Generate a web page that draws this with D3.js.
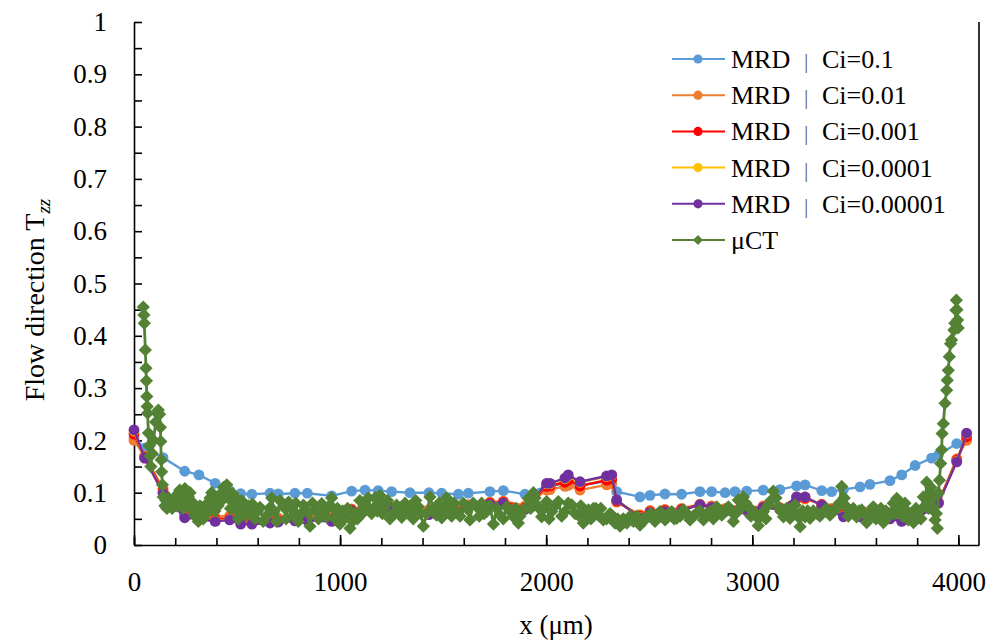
<!DOCTYPE html>
<html>
<head>
<meta charset="utf-8">
<script src="https://cdn.jsdelivr.net/npm/d3@7"></script>
<style>
  body { margin: 0; background: #fff; }
  svg { display: block; }
  svg text { font-family: "Liberation Serif", "DejaVu Serif", serif; fill: #000; }
</style>
</head>
<body>
<svg width="996" height="640"></svg>
<script>
// MRD nodes (shared by all MRD runs)
var mrdX = [0, 52, 141, 246, 315, 394, 464, 518, 572, 660, 700, 781, 841, 959, 1056, 1121, 1185, 1250, 1339, 1431,
  1493, 1574, 1622, 1727, 1792, 1897, 2002, 2019, 2091, 2107, 2164, 2293, 2318, 2342, 2455, 2504, 2576, 2657, 2746, 2803,
  2868, 2916, 2973, 3053, 3134, 3215, 3256, 3337, 3385, 3442, 3523, 3571, 3668, 3725, 3790, 3870, 3903, 3992, 4040];

var ci01 = [0.205, 0.185, 0.167, 0.141, 0.134, 0.118, 0.104, 0.098, 0.097, 0.099, 0.0975, 0.099, 0.099, 0.094, 0.103, 0.105, 0.104, 0.102, 0.1, 0.1,
  0.099, 0.097, 0.099, 0.102, 0.104, 0.097, 0.112, 0.112, 0.118, 0.12, 0.114, 0.122, 0.123, 0.102, 0.092, 0.095, 0.0975, 0.097, 0.102, 0.102,
  0.1, 0.102, 0.103, 0.105, 0.106, 0.113, 0.115, 0.104, 0.102, 0.106, 0.111, 0.116, 0.123, 0.134, 0.152, 0.166, 0.172, 0.194, 0.203];

var ci001 = [0.2, 0.17, 0.108, 0.062, 0.058, 0.054, 0.056, 0.05, 0.048, 0.05, 0.052, 0.055, 0.056, 0.055, 0.069, 0.072, 0.076, 0.073, 0.07, 0.068,
  0.062, 0.066, 0.077, 0.082, 0.084, 0.075, 0.105, 0.106, 0.112, 0.114, 0.105, 0.115, 0.117, 0.082, 0.058, 0.066, 0.068, 0.07, 0.078, 0.075,
  0.07, 0.066, 0.07, 0.075, 0.072, 0.088, 0.088, 0.078, 0.07, 0.06, 0.062, 0.065, 0.062, 0.056, 0.058, 0.072, 0.082, 0.165, 0.2];

var ci0001 = [0.212, 0.168, 0.103, 0.056, 0.053, 0.049, 0.051, 0.044, 0.043, 0.045, 0.047, 0.05, 0.051, 0.049, 0.067, 0.07, 0.074, 0.07, 0.067, 0.062,
  0.059, 0.063, 0.074, 0.08, 0.082, 0.071, 0.112, 0.113, 0.12, 0.124, 0.113, 0.124, 0.126, 0.084, 0.055, 0.064, 0.066, 0.068, 0.077, 0.073,
  0.067, 0.064, 0.068, 0.073, 0.07, 0.09, 0.09, 0.077, 0.067, 0.057, 0.058, 0.061, 0.056, 0.05, 0.053, 0.071, 0.081, 0.162, 0.207];

var ci00001 = [0.218, 0.166, 0.1, 0.053, 0.051, 0.046, 0.049, 0.041, 0.041, 0.043, 0.045, 0.047, 0.048, 0.046, 0.065, 0.068, 0.072, 0.068, 0.065, 0.059,
  0.057, 0.061, 0.072, 0.078, 0.08, 0.069, 0.117, 0.117, 0.127, 0.132, 0.12, 0.131, 0.133, 0.086, 0.053, 0.062, 0.064, 0.066, 0.077, 0.072,
  0.065, 0.062, 0.066, 0.072, 0.068, 0.092, 0.092, 0.076, 0.065, 0.055, 0.055, 0.059, 0.051, 0.046, 0.049, 0.07, 0.08, 0.16, 0.213];

var ci000001 = [0.22, 0.166, 0.099, 0.052, 0.05, 0.045, 0.048, 0.04, 0.04, 0.042, 0.044, 0.046, 0.047, 0.045, 0.065, 0.068, 0.072, 0.068, 0.064, 0.058,
  0.057, 0.06, 0.072, 0.078, 0.08, 0.068, 0.118, 0.118, 0.128, 0.134, 0.121, 0.132, 0.134, 0.086, 0.052, 0.062, 0.064, 0.066, 0.077, 0.072,
  0.064, 0.062, 0.066, 0.072, 0.068, 0.092, 0.092, 0.076, 0.065, 0.054, 0.054, 0.058, 0.05, 0.045, 0.048, 0.07, 0.08, 0.159, 0.214];

// micro-CT profile [x, Tzz]
var ctProfile = [
  [45, 0.455], [48, 0.44], [50, 0.424], [55, 0.373], [58, 0.338], [60, 0.314], [62, 0.284], [64, 0.265], [66, 0.252], [70, 0.214],
  [74, 0.19], [78, 0.17], [82, 0.15], [88, 0.175], [95, 0.2], [105, 0.235], [112, 0.252], [118, 0.258], [124, 0.25], [128, 0.225],
  [130, 0.198], [132, 0.163], [134, 0.14], [138, 0.115], [142, 0.092],
  [150, 0.075], [155, 0.085], [160, 0.07], [168, 0.09], [175, 0.08], [185, 0.07], [195, 0.09], [205, 0.075], [215, 0.099], [222, 0.105],
  [230, 0.085], [238, 0.07], [247, 0.108], [256, 0.08], [264, 0.092], [272, 0.1], [280, 0.067], [288, 0.08], [296, 0.055], [304, 0.07],
  [312, 0.045], [320, 0.075], [328, 0.058], [336, 0.05], [344, 0.067], [350, 0.06], [356, 0.08], [362, 0.07], [369, 0.09], [377, 0.1],
  [385, 0.082], [392, 0.065], [400, 0.09], [408, 0.075], [417, 0.097], [426, 0.085], [434, 0.11], [442, 0.095], [450, 0.115], [456, 0.09],
  [462, 0.1], [468, 0.07], [474, 0.088], [480, 0.098], [486, 0.075], [492, 0.09], [498, 0.065], [506, 0.05], [514, 0.07], [522, 0.085],
  [530, 0.072], [538, 0.06], [546, 0.058], [555, 0.075], [563, 0.062], [575, 0.078], [587, 0.05], [599, 0.065], [611, 0.072], [627, 0.045],
  [644, 0.056], [656, 0.07], [668, 0.09], [680, 0.065], [692, 0.045], [708, 0.085], [725, 0.073], [738, 0.05], [750, 0.082], [762, 0.07],
  [773, 0.057], [785, 0.08], [797, 0.045], [810, 0.06], [822, 0.076], [838, 0.065], [854, 0.036], [866, 0.08], [878, 0.067], [895, 0.05],
  [911, 0.079], [923, 0.065], [935, 0.054], [947, 0.075], [959, 0.09], [967, 0.07], [975, 0.05], [987, 0.07], [999, 0.04], [1012, 0.065],
  [1024, 0.052], [1036, 0.07], [1048, 0.032], [1060, 0.045], [1072, 0.06], [1084, 0.05], [1096, 0.085], [1108, 0.06], [1121, 0.073], [1137, 0.09],
  [1153, 0.06], [1161, 0.07], [1169, 0.09], [1181, 0.065], [1193, 0.095], [1205, 0.06], [1218, 0.076], [1230, 0.085], [1242, 0.05], [1258, 0.06],
  [1274, 0.076], [1286, 0.07], [1299, 0.053], [1315, 0.08], [1331, 0.065], [1343, 0.075], [1355, 0.05], [1367, 0.085], [1380, 0.073], [1392, 0.06],
  [1404, 0.036], [1420, 0.06], [1436, 0.092], [1452, 0.07], [1468, 0.057], [1480, 0.08], [1493, 0.052], [1505, 0.065], [1517, 0.09], [1529, 0.07],
  [1541, 0.055], [1553, 0.08], [1566, 0.064], [1582, 0.055], [1598, 0.08], [1614, 0.07], [1630, 0.048], [1646, 0.08], [1663, 0.073], [1675, 0.055],
  [1687, 0.08], [1699, 0.06], [1711, 0.064], [1727, 0.075], [1744, 0.04], [1760, 0.07], [1776, 0.057], [1792, 0.05], [1808, 0.073], [1824, 0.065],
  [1841, 0.054], [1853, 0.07], [1865, 0.042], [1873, 0.055], [1881, 0.064], [1897, 0.07], [1913, 0.089], [1925, 0.07], [1938, 0.1], [1946, 0.09],
  [1954, 0.0765], [1966, 0.07], [1978, 0.054], [1990, 0.07], [2002, 0.083], [2014, 0.05], [2027, 0.064], [2043, 0.075], [2059, 0.083], [2075, 0.055],
  [2091, 0.064], [2107, 0.08], [2124, 0.0765], [2140, 0.06], [2156, 0.057], [2168, 0.075], [2180, 0.042], [2192, 0.06], [2205, 0.067], [2217, 0.05],
  [2229, 0.07], [2241, 0.07], [2253, 0.057], [2265, 0.07], [2277, 0.048], [2293, 0.05], [2310, 0.06], [2322, 0.055], [2334, 0.042], [2346, 0.05],
  [2358, 0.036], [2374, 0.05], [2391, 0.042], [2407, 0.055], [2423, 0.045], [2439, 0.055], [2455, 0.038], [2471, 0.045], [2488, 0.054], [2508, 0.06],
  [2528, 0.045], [2540, 0.055], [2552, 0.064], [2564, 0.055], [2577, 0.048], [2593, 0.06], [2609, 0.064], [2621, 0.05], [2633, 0.051], [2650, 0.055],
  [2666, 0.067], [2682, 0.06], [2698, 0.048], [2714, 0.055], [2730, 0.061], [2746, 0.065], [2763, 0.048], [2779, 0.06], [2795, 0.064], [2811, 0.05],
  [2827, 0.073], [2840, 0.065], [2852, 0.057], [2868, 0.065], [2884, 0.073], [2896, 0.065], [2908, 0.045], [2920, 0.06], [2932, 0.086], [2944, 0.07],
  [2957, 0.092], [2969, 0.08], [2981, 0.073], [2993, 0.055], [3005, 0.064], [3017, 0.055], [3029, 0.037], [3041, 0.055], [3054, 0.064], [3066, 0.05],
  [3078, 0.0765], [3090, 0.085], [3102, 0.103], [3115, 0.09], [3127, 0.073], [3139, 0.065], [3151, 0.054], [3167, 0.07], [3183, 0.051], [3195, 0.06],
  [3207, 0.0765], [3220, 0.055], [3232, 0.035], [3244, 0.065], [3256, 0.054], [3268, 0.065], [3280, 0.051], [3296, 0.065], [3312, 0.061], [3328, 0.055],
  [3345, 0.064], [3361, 0.07], [3377, 0.057], [3393, 0.065], [3409, 0.07], [3422, 0.08], [3434, 0.112], [3446, 0.09], [3458, 0.073], [3466, 0.055],
  [3474, 0.064], [3490, 0.07], [3506, 0.054], [3518, 0.065], [3531, 0.067], [3543, 0.06], [3555, 0.043], [3571, 0.06], [3587, 0.073], [3600, 0.05],
  [3612, 0.06], [3624, 0.07], [3636, 0.043], [3648, 0.065], [3660, 0.054], [3672, 0.06], [3684, 0.08], [3692, 0.06], [3701, 0.089], [3709, 0.085],
  [3717, 0.067], [3729, 0.055], [3741, 0.08], [3749, 0.065], [3757, 0.048], [3770, 0.06], [3782, 0.043], [3794, 0.07], [3806, 0.064], [3818, 0.05],
  [3830, 0.092], [3838, 0.075], [3846, 0.12], [3855, 0.07], [3863, 0.099], [3867, 0.11], [3871, 0.073], [3879, 0.09], [3887, 0.048], [3893, 0.06],
  [3898, 0.032], [3903, 0.099], [3908, 0.124], [3914, 0.156], [3919, 0.182], [3921, 0.213], [3927, 0.232], [3935, 0.271], [3943, 0.296], [3946, 0.315],
  [3951, 0.334], [3956, 0.36], [3962, 0.385], [3967, 0.392], [3978, 0.411], [3983, 0.424], [3988, 0.449], [3990, 0.468], [3993, 0.45], [3996, 0.43],
  [3999, 0.415]
];

var seriesNames = ["MRD", "MRD", "MRD", "MRD", "MRD", "\u03bcCT"];
var ciLabels = ["Ci=0.1", "Ci=0.01", "Ci=0.001", "Ci=0.0001", "Ci=0.00001", ""];
var colors = ["#5b9bd5", "#ed7d31", "#ff0000", "#ffc000", "#7030a0", "#548235"];
var yTickLabels = ["0", "0.1", "0.2", "0.3", "0.4", "0.5", "0.6", "0.7", "0.8", "0.9", "1"];
var xTickLabels = ["0", "1000", "2000", "3000", "4000"];

var svg = d3.select("svg");
var L = 134, R = 979, T = 22, B = 545;

var x = d3.scaleLinear().domain([0, 4100]).range([L, R]);
var y = d3.scaleLinear().domain([0, 1]).range([B, T]);

// axes
var gy = svg.append("g").attr("transform", "translate(" + L + ",0)");
gy.call(d3.axisLeft(y).tickValues(d3.range(0, 1.0001, 0.05)).tickSizeInner(-8).tickSizeOuter(0).tickFormat(""));
var gyl = svg.append("g").attr("transform", "translate(" + L + ",0)");
gyl.call(d3.axisLeft(y).tickValues(d3.range(0, 11).map(function(i) { return i / 10; }))
  .tickSize(0).tickPadding(27).tickFormat(function(d, i) { return yTickLabels[i]; }));
gyl.select(".domain").remove();

var gx = svg.append("g").attr("transform", "translate(0," + B + ")");
gx.call(d3.axisBottom(x).tickValues(d3.range(0, 4001, 200)).tickSizeInner(-7).tickSizeOuter(0).tickFormat(""));
var gxl = svg.append("g").attr("transform", "translate(0," + B + ")");
gxl.call(d3.axisBottom(x).tickValues([0, 1000, 2000, 3000, 4000]).tickSizeInner(-10).tickSizeOuter(0).tickPadding(27)
  .tickFormat(function(d, i) { return xTickLabels[i]; }));
gxl.select(".domain").remove();

svg.selectAll("g").attr("font-family", null);
svg.selectAll(".tick text").style("font-size", "27px");
svg.selectAll(".domain, .tick line").attr("stroke", "#000").attr("stroke-width", 1.6);

// right frame line
svg.append("line").attr("x1", R).attr("x2", R).attr("y1", T).attr("y2", B).attr("stroke", "#000").attr("stroke-width", 1.6);

// series
var mrdSeries = [ci01, ci001, ci0001, ci00001, ci000001];
var line = d3.line().x(function(d) { return x(d[0]); }).y(function(d) { return y(d[1]); });
var plot = svg.append("g");

mrdSeries.forEach(function(vals, k) {
  var pts = mrdX.map(function(xv, i) { return [xv, vals[i]]; });
  var g = plot.append("g");
  g.append("path").attr("d", line(pts)).attr("fill", "none").attr("stroke", colors[k]).attr("stroke-width", 2.4);
  g.selectAll("circle").data(pts).enter().append("circle")
    .attr("cx", function(d) { return x(d[0]); })
    .attr("cy", function(d) { return y(d[1]); })
    .attr("r", 5.4).attr("fill", colors[k]);
});

var diamond = d3.symbol().type(d3.symbolSquare).size(88);
var gct = plot.append("g");
gct.append("path").attr("d", line(ctProfile)).attr("fill", "none").attr("stroke", colors[5]).attr("stroke-width", 2.8);
gct.selectAll("path.pt").data(ctProfile).enter().append("path").attr("class", "pt")
  .attr("d", diamond)
  .attr("transform", function(d) { return "translate(" + x(d[0]) + "," + y(d[1]) + ") rotate(45)"; })
  .attr("fill", colors[5]);

// legend
var leg = svg.append("g");
var legDiamond = d3.symbol().type(d3.symbolSquare).size(50);
seriesNames.forEach(function(name, k) {
  var ly = 59 + k * 36.2;
  leg.append("line").attr("x1", 672).attr("x2", 725).attr("y1", ly).attr("y2", ly)
    .attr("stroke", colors[k]).attr("stroke-width", 2);
  if (k < 5) {
    leg.append("circle").attr("cx", 698).attr("cy", ly).attr("r", 4.6).attr("fill", colors[k]);
  } else {
    leg.append("path").attr("d", legDiamond).attr("transform", "translate(698," + ly + ") rotate(45)").attr("fill", colors[k]);
  }
  var t = leg.append("text").attr("x", 731).attr("y", ly + 9).style("font-size", "26px");
  t.append("tspan").text(name);
  if (ciLabels[k]) {
    t.append("tspan").attr("x", 804).style("fill", "#666").style("font-size", "22px").text("|");
    t.append("tspan").attr("x", 822).style("font-size", "26px").text(ciLabels[k]);
  }
});

// axis titles
svg.append("text").attr("x", 556).attr("y", 634).attr("text-anchor", "middle").style("font-size", "27px").text("x (\u03bcm)");
var yt = svg.append("text").attr("transform", "translate(44,300) rotate(-90)").attr("text-anchor", "middle").style("font-size", "28px");
yt.append("tspan").text("Flow direction T");
yt.append("tspan").attr("dy", 6).style("font-size", "19px").style("font-style", "italic").text("zz");
</script>
</body>
</html>
